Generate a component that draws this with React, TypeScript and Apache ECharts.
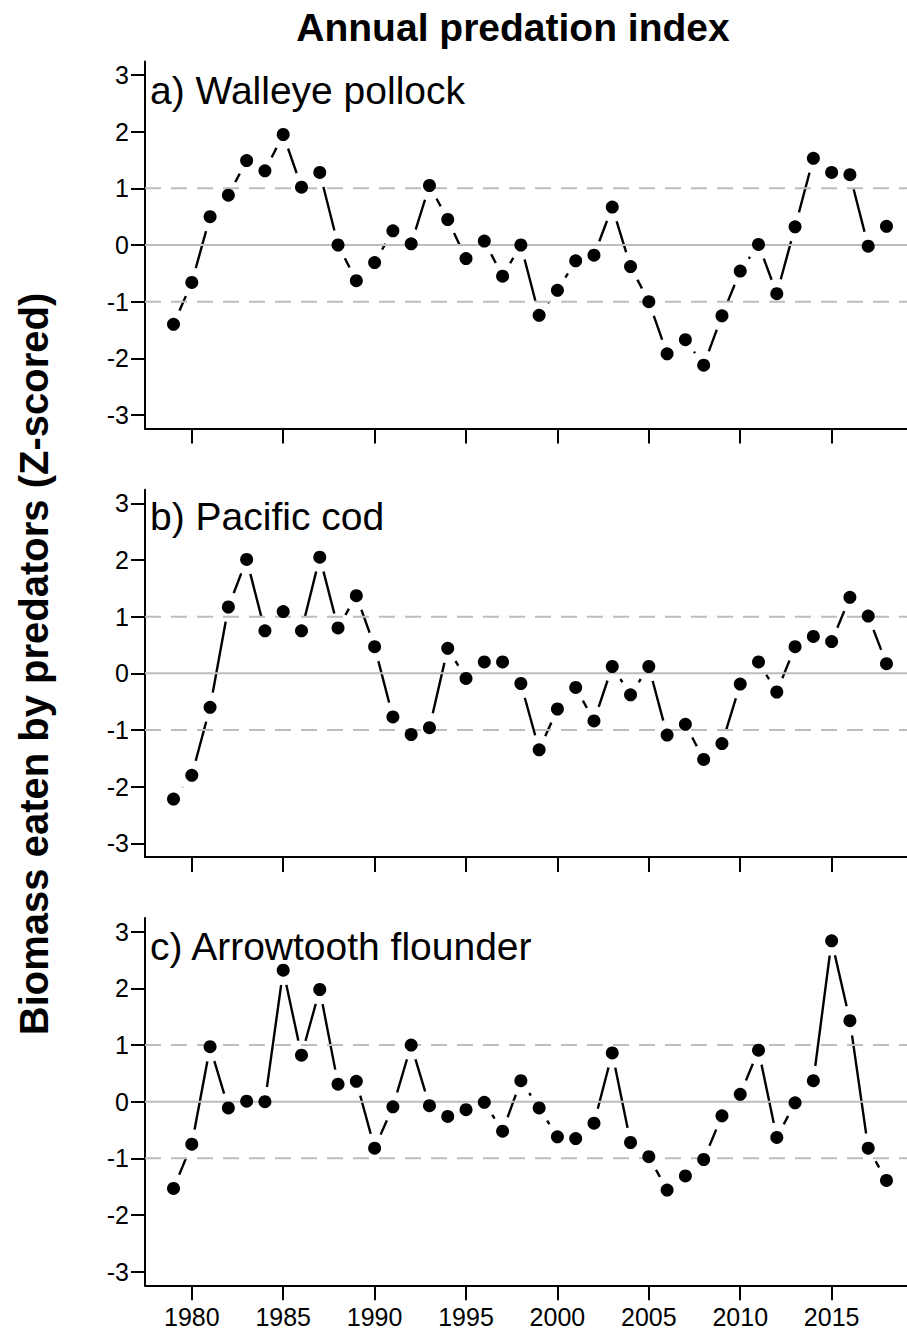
import React, { useEffect, useRef } from "react";
import * as echarts from "echarts";

const YEARS = [
  1979, 1980, 1981, 1982, 1983, 1984, 1985, 1986, 1987, 1988,
  1989, 1990, 1991, 1992, 1993, 1994, 1995, 1996, 1997, 1998,
  1999, 2000, 2001, 2002, 2003, 2004, 2005, 2006, 2007, 2008,
  2009, 2010, 2011, 2012, 2013, 2014, 2015, 2016, 2017, 2018,
];

const POLLOCK = [
  -1.40, -0.66, 0.50, 0.88, 1.49, 1.31, 1.95, 1.02, 1.28, 0.0,
  -0.63, -0.31, 0.25, 0.02, 1.05, 0.45, -0.24, 0.07, -0.55, 0.0,
  -1.24, -0.80, -0.28, -0.18, 0.67, -0.38, -1.0, -1.92, -1.67, -2.12,
  -1.25, -0.46, 0.01, -0.86, 0.32, 1.53, 1.28, 1.24, -0.02, 0.33,
];

const COD = [
  -2.22, -1.80, -0.60, 1.17, 2.01, 0.75, 1.09, 0.75, 2.05, 0.80,
  1.37, 0.47, -0.77, -1.08, -0.96, 0.44, -0.09, 0.20, 0.20, -0.18,
  -1.35, -0.63, -0.25, -0.84, 0.12, -0.38, 0.12, -1.09, -0.90, -1.52,
  -1.24, -0.19, 0.20, -0.33, 0.47, 0.65, 0.56, 1.34, 1.01, 0.17,
];

const ARROWTOOTH = [
  -1.53, -0.75, 0.97, -0.11, 0.01, 0.0, 2.32, 0.82, 1.98, 0.31,
  0.36, -0.82, -0.09, 1.0, -0.07, -0.26, -0.14, -0.01, -0.52, 0.37,
  -0.11, -0.62, -0.65, -0.38, 0.86, -0.72, -0.97, -1.56, -1.31, -1.02,
  -0.25, 0.13, 0.91, -0.63, -0.02, 0.37, 2.84, 1.43, -0.82, -1.39,
];

const PANEL_LABELS = ["a) Walleye pollock", "b) Pacific cod", "c) Arrowtooth flounder"];
const Y_TICKS = [-3, -2, -1, 0, 1, 2, 3];
const X_TICKS = [1980, 1985, 1990, 1995, 2000, 2005, 2010, 2015];
const REF_SOLID = [0];
const REF_DASHED = [-1, 1];
const X_MIN = 1977.44;
const X_MAX = 2019.56;
const Y_MIN = -3.24;
const Y_MAX = 3.24;

const TITLE = "Annual predation index";
const Y_TITLE = "Biomass eaten by predators (Z-scored)";

const FONT = "'Liberation Sans', Arial, Helvetica, sans-serif";

export default function App() {
  const ref = useRef<HTMLDivElement>(null);

  useEffect(() => {
    if (!ref.current) return;
    const chart = echarts.init(ref.current, null, { renderer: "svg" });
    const panels = [POLLOCK, COD, ARROWTOOTH];
    const gridTops = [61.4, 489.7, 918.1];
    const gridH = 367.2;
    const labelY = [90, 516.5, 946];

    const grids = gridTops.map((t) => ({ left: 145, top: t, width: 770, height: gridH }));
    const xAxes = panels.map((_, i) => ({
      type: "value",
      gridIndex: i,
      min: X_MIN,
      max: X_MAX,
      splitLine: { show: false },
      axisLine: { show: true, onZero: false, lineStyle: { color: "#000", width: 2 } },
      axisTick: { show: true, customValues: X_TICKS, length: 15, lineStyle: { color: "#000", width: 2 } },
      axisLabel: {
        show: i === 2,
        customValues: X_TICKS,
        formatter: (v: number) => String(Math.round(v)),
        fontSize: 25,
        fontFamily: FONT,
        color: "#000",
        margin: 19,
      },
    }));
    const yAxes = panels.map((_, i) => ({
      type: "value",
      gridIndex: i,
      min: Y_MIN,
      max: Y_MAX,
      splitLine: { show: false },
      axisLine: { show: true, onZero: false, lineStyle: { color: "#000", width: 2 } },
      axisTick: { show: true, customValues: Y_TICKS, length: 14, lineStyle: { color: "#000", width: 2 } },
      axisLabel: {
        customValues: Y_TICKS,
        formatter: (v: number) => String(Math.round(v)),
        fontSize: 25,
        fontFamily: FONT,
        color: "#000",
        margin: 16,
      },
    }));

    const series: any[] = [];
    panels.forEach((vals, i) => {
      const data = YEARS.map((y, k) => [y, vals[k]]);
      series.push({
        type: "line",
        xAxisIndex: i,
        yAxisIndex: i,
        data,
        symbol: "circle",
        symbolSize: 30,
        showSymbol: true,
        showAllSymbol: true,
        itemStyle: { color: "#fff", borderWidth: 0, opacity: 1 },
        lineStyle: { color: "#000", width: 2.4 },
        silent: true,
        z: 2,
      });
      REF_SOLID.forEach((lv) => {
        series.push({
          type: "line",
          xAxisIndex: i,
          yAxisIndex: i,
          data: [[X_MIN, lv], [X_MAX, lv]],
          symbol: "none",
          lineStyle: { color: "#bdbdbd", width: 2 },
          silent: true,
          z: 3,
        });
      });
      REF_DASHED.forEach((lv) => {
        series.push({
          type: "line",
          xAxisIndex: i,
          yAxisIndex: i,
          data: [[X_MIN, lv], [X_MAX, lv]],
          symbol: "none",
          lineStyle: { color: "#bdbdbd", width: 2, type: [16, 10] },
          silent: true,
          z: 3,
        });
      });
      series.push({
        type: "scatter",
        xAxisIndex: i,
        yAxisIndex: i,
        data,
        symbol: "circle",
        symbolSize: 13,
        itemStyle: { color: "#000", opacity: 1 },
        silent: true,
        z: 4,
      });
    });

    const graphics: any[] = [
      {
        type: "text",
        x: 513,
        y: 27,
        z: 100,
        style: {
          text: TITLE,
          fontSize: 39,
          fontWeight: "bold",
          fontFamily: FONT,
          fill: "#000",
          textAlign: "center",
          textVerticalAlign: "middle",
        },
      },
      {
        type: "text",
        x: 34,
        y: 664,
        rotation: Math.PI / 2,
        z: 100,
        style: {
          text: Y_TITLE,
          fontSize: 40,
          fontWeight: "bold",
          fontFamily: FONT,
          fill: "#000",
          textAlign: "center",
          textVerticalAlign: "middle",
        },
      },
      ...PANEL_LABELS.map((t, i) => ({
        type: "text",
        x: 150,
        y: labelY[i],
        z: 100,
        style: {
          text: t,
          fontSize: 39,
          fontFamily: FONT,
          fill: "#000",
          textAlign: "left",
          textVerticalAlign: "middle",
        },
      })),
    ];

    chart.setOption({
      animation: false,
      backgroundColor: "#fff",
      grid: grids,
      xAxis: xAxes,
      yAxis: yAxes,
      series,
      graphic: graphics,
    });
    return () => chart.dispose();
  }, []);

  return (
    <div
      style={{
        position: "absolute",
        left: 0,
        top: 0,
        width: 907,
        height: 1331,
        overflow: "hidden",
        background: "#fff",
      }}
    >
      <div ref={ref} style={{ width: 915, height: 1331 }} />
    </div>
  );
}
